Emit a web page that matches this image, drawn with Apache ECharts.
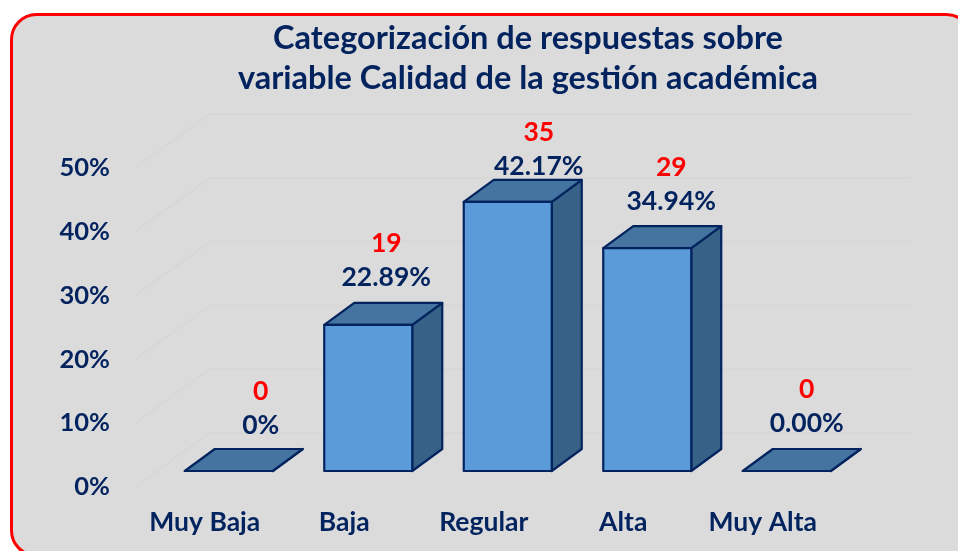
<!DOCTYPE html>
<html>
<head>
<meta charset="utf-8">
<style>html,body{margin:0;padding:0;background:#fff}#c{width:958px;height:551px}</style>
<script src="https://cdn.jsdelivr.net/npm/echarts@6/dist/echarts.min.js"></script>
</head>
<body>
<div id="c"></div>
<script>
const categories = ['Muy Baja', 'Baja', 'Regular', 'Alta', 'Muy Alta'];
const percentValues = [0, 22.89, 42.17, 34.94, 0];
const percentLabels = ['0%', '22.89%', '42.17%', '34.94%', '0.00%'];
const counts = [0, 19, 35, 29, 0];
const tickValues = [0, 10, 20, 30, 40, 50];

const NAVY = '#03235f', RED = '#ff0000';
const FONT = 'Lato, Carlito, "Open Sans", sans-serif';
const LABEL_FONT = 'bold 26.5px ' + FONT;
const labelNudgeX = [32, 18, 31, 24, 20];
const labelNudgeY = [-46, -48, -36, -47, -48];

const chart = echarts.init(document.getElementById('c'), null, {renderer: 'canvas'});

function barPoints(api, i, v) {
  const base = api.coord([i, 0]);
  const top = api.coord([i, v]);
  const cx = base[0] + 24, w = 88, oy = -16;
  return {l: cx - w / 2, r: cx + w / 2, b: base[1] + oy, t: top[1] + oy};
}

chart.setOption({
  animation: false,
  backgroundColor: '#ffffff',
  title: {
    text: 'Categorización de respuestas sobre\nvariable Calidad de la gestión académica',
    left: 523, top: 14, textAlign: 'center',
    textStyle: {color: NAVY, fontFamily: FONT, fontWeight: 'bold', fontSize: 32.5, lineHeight: 40}
  },
  graphic: [{
    type: 'rect', z: -10, silent: true,
    shape: {x: 11.5, y: 14.5, width: 960, height: 541, r: 25},
    style: {fill: '#dbdbdb', stroke: RED, lineWidth: 3}
  }],
  grid: {left: 135, top: 168, width: 697.5, height: 319},
  xAxis: {
    type: 'category', data: categories,
    axisLine: {show: false}, axisTick: {show: false}, splitLine: {show: false},
    axisLabel: {color: NAVY, fontFamily: FONT, fontWeight: 'bold', fontSize: 26.5, margin: 22, interval: 0, hideOverlap: false}
  },
  yAxis: {
    type: 'value', min: 0, max: 50, interval: 10,
    axisLine: {show: false}, axisTick: {show: false}, splitLine: {show: false},
    axisLabel: {color: NAVY, fontFamily: FONT, fontWeight: 'bold', fontSize: 25.5, margin: 25, padding: [3, 0, 0, 0], formatter: '{value}%'}
  },
  series: [
    {
      type: 'custom', z: 1, silent: true, clip: false,
      data: tickValues.map(v => [0, v]),
      renderItem(params, api) {
        const band = api.size([1, 0])[0];
        const p = api.coord([0, api.value(1)]);
        const x0 = p[0] - band / 2, y0 = p[1];
        return {
          type: 'polyline',
          shape: {points: [[x0, y0], [x0 + 75, y0 - 54], [x0 + 78 + band * 5, y0 - 54]]},
          style: {stroke: '#d6d6d6', lineWidth: 1.5, fill: null}
        };
      }
    },
    {
      type: 'custom', z: 3, silent: true, clip: false,
      data: percentValues.map((v, i) => [i, v]),
      renderItem(params, api) {
        const g = barPoints(api, api.value(0), api.value(1));
        const dx = 30, dy = -22;
        const line = {stroke: NAVY, lineWidth: 2.2, lineJoin: 'round'};
        return {
          type: 'group',
          children: [
            {type: 'polygon', shape: {points: [[g.r, g.t], [g.r + dx, g.t + dy], [g.r + dx, g.b + dy], [g.r, g.b]]},
              style: Object.assign({fill: '#376186'}, line)},
            {type: 'polygon', shape: {points: [[g.l, g.t], [g.l + dx, g.t + dy], [g.r + dx, g.t + dy], [g.r, g.t]]},
              style: Object.assign({fill: '#44749f'}, line)},
            {type: 'polygon', shape: {points: [[g.l, g.t], [g.r, g.t], [g.r, g.b], [g.l, g.b]]},
              style: Object.assign({fill: '#5b9bd9'}, line)}
          ]
        };
      }
    },
    {
      type: 'custom', z: 4, silent: true, clip: false,
      data: percentValues.map((v, i) => [i, v]),
      renderItem(params, api) {
        const i = api.value(0);
        const g = barPoints(api, i, api.value(1));
        const x = (g.l + g.r) / 2 + labelNudgeX[i];
        const y = g.t + labelNudgeY[i];
        return {
          type: 'group',
          children: [
            {type: 'text', style: {text: percentLabels[i], x, y, fill: NAVY, font: LABEL_FONT, align: 'center', verticalAlign: 'middle'}},
            {type: 'text', style: {text: String(counts[i]), x, y: y - 34, fill: RED, font: LABEL_FONT, align: 'center', verticalAlign: 'middle'}}
          ]
        };
      }
    }
  ]
});
</script>
</body>
</html>
